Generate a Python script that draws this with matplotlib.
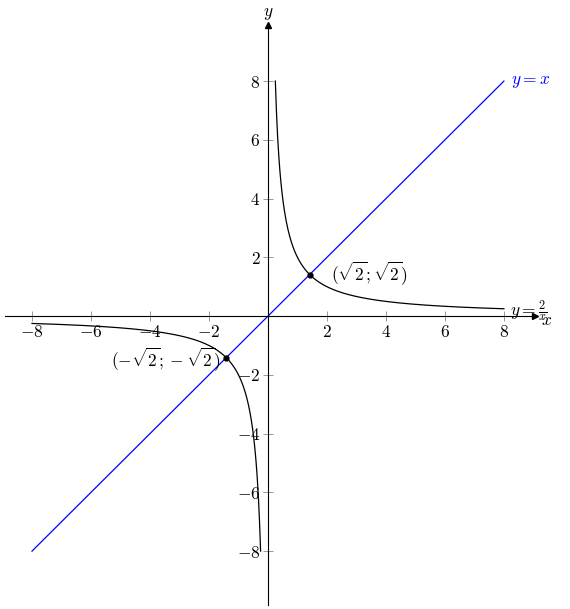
import numpy as np
import matplotlib.pyplot as plt

plt.rcParams['mathtext.fontset'] = 'cm'
plt.rcParams['font.family'] = 'serif'
plt.rcParams['font.serif'] = ['DejaVu Serif']

# data
ticks = [-8, -6, -4, -2, 2, 4, 6, 8]
line_x = [-8, 8]
x_pos = np.linspace(0.25, 8, 400)
x_neg = np.linspace(-8, -0.25, 400)
points = [(np.sqrt(2), np.sqrt(2)), (-np.sqrt(2), -np.sqrt(2))]

fig = plt.figure(figsize=(5.7, 6.09), dpi=100)
ax = fig.add_axes([0, 0, 1, 1])
ax.set_xlim(-9.085, 10.24)
ax.set_ylim(-9.97, 10.76)

for s in ['top', 'right']:
    ax.spines[s].set_visible(False)
ax.spines['bottom'].set_position(('data', 0))
ax.spines['left'].set_position(('data', 0))
ax.spines['bottom'].set_bounds(-8.9, 9.0)
ax.spines['left'].set_bounds(-9.85, 9.8)
for s in ['bottom', 'left']:
    ax.spines[s].set_linewidth(0.8)

ax.set_xticks(ticks)
ax.set_yticks(ticks)
ax.set_xticklabels([f'${t}$' for t in ticks], fontsize=12.5)
ax.set_yticklabels([f'${t}$' for t in ticks], fontsize=12.5)
ax.tick_params(direction='inout', length=7, width=0.6, color='#888888', pad=2)

# arrow heads
ax.plot(9.05, 0, marker='>', color='black', markersize=4.5, clip_on=False)
ax.plot(0, 9.9, marker='^', color='black', markersize=4.5, clip_on=False)
ax.text(9.25, -0.15, '$x$', fontsize=12.5, ha='left', va='center')
ax.text(0, 10.3, '$y$', fontsize=12.5, ha='center', va='center')

ax.plot(line_x, line_x, color='blue', linewidth=0.9)
ax.plot(x_pos, 2 / x_pos, color='black', linewidth=0.9)
ax.plot(x_neg, 2 / x_neg, color='black', linewidth=0.9)

ax.text(8.25, 8, '$y=x$', color='blue', fontsize=12.5, ha='left', va='center')
ax.text(8.2, 0.2, r'$y=\frac{2}{x}$', fontsize=12.5, ha='left', va='center')

for px, py in points:
    ax.plot(px, py, 'o', color='black', markersize=3.5)
ax.text(2.15, 1.45, r'$(\sqrt{2};\sqrt{2})$', fontsize=12.5, ha='left', va='center')
ax.text(-1.6, -1.45, r'$(-\sqrt{2};-\sqrt{2})$', fontsize=12.5, ha='right', va='center')

plt.savefig('out.png', dpi=100)
